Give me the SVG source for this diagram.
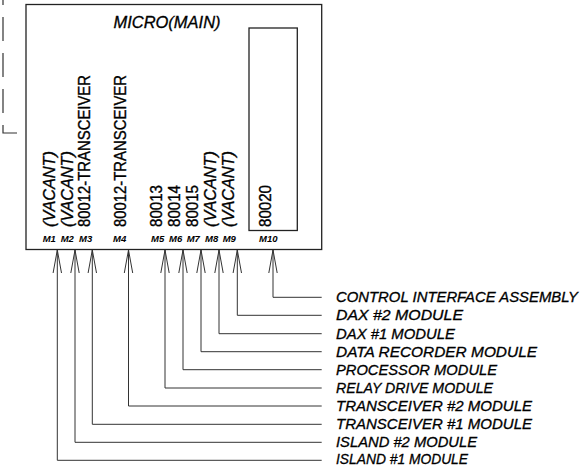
<svg xmlns="http://www.w3.org/2000/svg" width="588" height="466" viewBox="0 0 588 466">
<style>
.box{fill:none;stroke:#222;stroke-width:1.3}
.conn{fill:none;stroke:#333;stroke-width:1}
.vt{font-family:"Liberation Sans",Arial,sans-serif;font-size:16.5px;fill:#000;stroke:#000;stroke-width:0.35}
.vi{font-style:italic}
.ml{font-family:"Liberation Sans",Arial,sans-serif;font-size:9.5px;font-weight:bold;font-style:italic;fill:#000}
.lab{font-family:"Liberation Sans",Arial,sans-serif;font-size:14.5px;font-style:italic;fill:#000;stroke:#000;stroke-width:0.3}
.title{font-family:"Liberation Sans",Arial,sans-serif;font-size:16.5px;font-style:italic;fill:#000;stroke:#000;stroke-width:0.3}
</style>
<defs>
<marker id="ah" markerUnits="userSpaceOnUse" orient="auto" refX="0" refY="0" markerWidth="30" markerHeight="12" overflow="visible">
<path d="M-23,-4.2 L0,0 L-23,4.2" fill="none" stroke="#333" stroke-width="1"/>
</marker>
</defs>
<path d="M3,0 V133 H17" fill="none" stroke="#333" stroke-width="1.2" stroke-dasharray="24 12" stroke-dashoffset="19"/>
<g id="micro-main">
<rect class="box" x="26" y="4.5" width="295.7" height="245"/>
<text class="title" x="167" y="28" text-anchor="middle" textLength="107" lengthAdjust="spacingAndGlyphs">MICRO(MAIN)</text>
</g>
<g id="m10-slot">
<rect class="box" x="249" y="28" width="48.3" height="202.5"/>
</g>
<g id="m1"><text class="vt vi" transform="translate(54.5,227) rotate(-90)" textLength="76" lengthAdjust="spacingAndGlyphs">(VACANT)</text><text class="ml" x="42.7" y="242">M1</text></g>
<g id="m2"><text class="vt vi" transform="translate(72.5,227) rotate(-90)" textLength="76" lengthAdjust="spacingAndGlyphs">(VACANT)</text><text class="ml" x="60.7" y="242">M2</text></g>
<g id="m3"><text class="vt" transform="translate(90,227) rotate(-90)" textLength="152" lengthAdjust="spacingAndGlyphs">80012-TRANSCEIVER</text><text class="ml" x="79" y="242">M3</text></g>
<g id="m4"><text class="vt" transform="translate(126,227) rotate(-90)" textLength="152" lengthAdjust="spacingAndGlyphs">80012-TRANSCEIVER</text><text class="ml" x="113" y="242">M4</text></g>
<g id="m5"><text class="vt" transform="translate(162,227) rotate(-90)" textLength="42" lengthAdjust="spacingAndGlyphs">80013</text><text class="ml" x="151" y="242">M5</text></g>
<g id="m6"><text class="vt" transform="translate(180,227) rotate(-90)" textLength="42" lengthAdjust="spacingAndGlyphs">80014</text><text class="ml" x="169" y="242">M6</text></g>
<g id="m7"><text class="vt" transform="translate(197.5,227) rotate(-90)" textLength="42" lengthAdjust="spacingAndGlyphs">80015</text><text class="ml" x="186.7" y="242">M7</text></g>
<g id="m8"><text class="vt vi" transform="translate(215.5,227) rotate(-90)" textLength="76" lengthAdjust="spacingAndGlyphs">(VACANT)</text><text class="ml" x="205" y="242">M8</text></g>
<g id="m9"><text class="vt vi" transform="translate(233.5,227) rotate(-90)" textLength="76" lengthAdjust="spacingAndGlyphs">(VACANT)</text><text class="ml" x="222.7" y="242">M9</text></g>
<g id="m10"><text class="vt" transform="translate(271,227) rotate(-90)" textLength="42" lengthAdjust="spacingAndGlyphs">80020</text><text class="ml" x="259" y="242">M10</text></g>
<g id="connectors">
<path class="conn" marker-end="url(#ah)" d="M321.7,297.3 H273 V250"/>
<path class="conn" marker-end="url(#ah)" d="M321.7,315.3 H237.3 V250"/>
<path class="conn" marker-end="url(#ah)" d="M321.7,333.7 H219 V250"/>
<path class="conn" marker-end="url(#ah)" d="M321.7,351.7 H201 V250"/>
<path class="conn" marker-end="url(#ah)" d="M321.7,369.7 H183 V250"/>
<path class="conn" marker-end="url(#ah)" d="M321.7,388 H165 V250"/>
<path class="conn" marker-end="url(#ah)" d="M321.7,406 H128.5 V250"/>
<path class="conn" marker-end="url(#ah)" d="M321.7,424.3 H92.3 V250"/>
<path class="conn" marker-end="url(#ah)" d="M321.7,442.3 H75 V250"/>
<path class="conn" marker-end="url(#ah)" d="M321.7,460.3 H57.3 V250"/>
</g>
<g id="labels">
<text class="lab" x="336" y="302.3" textLength="242" lengthAdjust="spacingAndGlyphs">CONTROL INTERFACE ASSEMBLY</text>
<text class="lab" x="336" y="320.3" textLength="127" lengthAdjust="spacingAndGlyphs">DAX #2 MODULE</text>
<text class="lab" x="336" y="338.7" textLength="119" lengthAdjust="spacingAndGlyphs">DAX #1 MODULE</text>
<text class="lab" x="336" y="356.7" textLength="201" lengthAdjust="spacingAndGlyphs">DATA RECORDER MODULE</text>
<text class="lab" x="336" y="374.7" textLength="161" lengthAdjust="spacingAndGlyphs">PROCESSOR MODULE</text>
<text class="lab" x="336" y="393" textLength="157" lengthAdjust="spacingAndGlyphs">RELAY DRIVE MODULE</text>
<text class="lab" x="336" y="411" textLength="196" lengthAdjust="spacingAndGlyphs">TRANSCEIVER #2 MODULE</text>
<text class="lab" x="336" y="429.3" textLength="196" lengthAdjust="spacingAndGlyphs">TRANSCEIVER #1 MODULE</text>
<text class="lab" x="336" y="447.3" textLength="141" lengthAdjust="spacingAndGlyphs">ISLAND #2 MODULE</text>
<text class="lab" x="336" y="463.5" textLength="132" lengthAdjust="spacingAndGlyphs">ISLAND #1 MODULE</text>
</g>
</svg>
